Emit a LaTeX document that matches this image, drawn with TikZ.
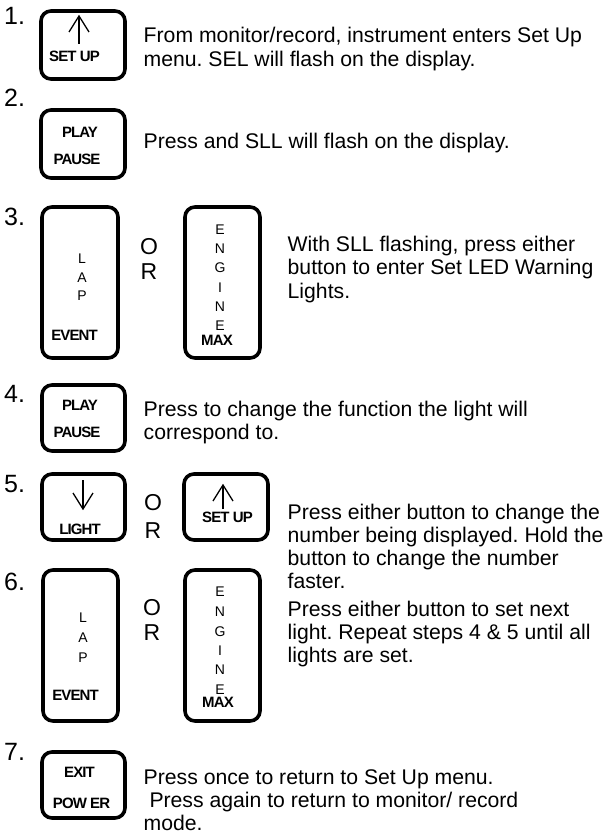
\documentclass[tikz,border=0pt]{standalone}
\usepackage{fontspec}
\setmainfont{Liberation Sans}
\newfontfamily\btnfont[LetterSpace=-6]{Liberation Sans}
\frenchspacing
\begin{document}
\begin{tikzpicture}[x=1pt,y=-1pt,
  btn/.style={draw, line width=3.6pt, rounded corners=10pt, inner sep=0pt},
  body/.style={anchor=base west, inner sep=0pt, font=\fontsize{21.2}{23.5}\selectfont},
  num/.style={anchor=base west, inner sep=0pt, font=\fontsize{25}{25}\selectfont},
  lbl/.style={inner sep=0pt, font=\btnfont\bfseries\fontsize{15}{15}\selectfont},
  ltr/.style={inner sep=0pt, font=\fontsize{14}{14}\selectfont},
  orl/.style={inner sep=0pt, font=\fontsize{23}{23}\selectfont},
  arr/.style={line width=1.3pt, line join=miter}
]
\useasboundingbox (0,0) rectangle (607,840);

% ---------- step numbers
\node[num] (n1) at (4,25) {1.};
\node[num] (n2) at (4,107) {2.};
\node[num] (n3) at (4,225) {3.};
\node[num] (n4) at (4,402) {4.};
\node[num] (n5) at (4,492) {5.};
\node[num] (n6) at (4,590) {6.};
\node[num] (n7) at (4,760) {7.};

% ---------- step 1
\node[btn, minimum width=84pt, minimum height=68pt] (b1) at (83,45) {};
\coordinate (b1top) at (79,16);
\coordinate (b1bot) at (79,44);
\draw[arr] (b1bot) -- (b1top);
\draw[arr] ([xshift=-10pt,yshift=-16pt]b1top) -- (b1top) -- ([xshift=10pt,yshift=-16pt]b1top);
\node[lbl] (b1l) at (74.5,56) {SET UP};
\node[body] (t1a) at (143.5,43) {From monitor/record, instrument enters Set Up};
\node[body] (t1b) at (143.5,67) {menu. SEL will flash on the display.};

% ---------- step 2
\node[btn, minimum width=84pt, minimum height=68pt] (b2) at (83,144) {};
\node[lbl] (b2a) at (80,132) {PLAY};
\node[lbl] (b2b) at (77,159) {PAUSE};
\node[body] (t2a) at (143.5,148) {Press and SLL will flash on the display.};

% ---------- step 3
\node[btn, minimum width=76pt, minimum height=151pt] (b3a) at (80,282.5) {};
\node[ltr] (b3l1) at (82,259) {L};
\node[ltr] (b3l2) at (82,278) {A};
\node[ltr] (b3l3) at (82,296) {P};
\node[lbl] (b3ev) at (74.5,335) {EVENT};
\node[orl] (o3) at (149,247) {O};
\node[orl] (r3) at (149,272) {R};
\node[btn, minimum width=75pt, minimum height=151pt] (b3b) at (222.5,282.5) {};
\node[ltr] (b3e1) at (220,230) {E};
\node[ltr] (b3e2) at (220,249) {N};
\node[ltr] (b3e3) at (220,268) {G};
\node[ltr] (b3e4) at (220,288) {I};
\node[ltr] (b3e5) at (220,307) {N};
\node[ltr] (b3e6) at (220,326) {E};
\node[lbl] (b3mx) at (217,340) {MAX};
\node[body] (t3a) at (287.5,251) {With SLL flashing, press either};
\node[body] (t3b) at (287.5,274.5) {button to enter Set LED Warning};
\node[body] (t3c) at (287.5,298) {Lights.};

% ---------- step 4
\node[btn, minimum width=83pt, minimum height=66pt] (b4) at (83.5,418) {};
\node[lbl] (b4a) at (80,405) {PLAY};
\node[lbl] (b4b) at (77,432) {PAUSE};
\node[body] (t4a) at (143.5,416) {Press to change the function the light will};
\node[body] (t4b) at (143.5,439.5) {correspond to.};

% ---------- step 5
\node[btn, minimum width=83pt, minimum height=66pt] (b5a) at (83.5,507) {};
\coordinate (b5atop) at (83,480);
\coordinate (b5atip) at (83,509);
\draw[arr] (b5atop) -- (b5atip);
\draw[arr] ([xshift=-10pt,yshift=16pt]b5atip) -- (b5atip) -- ([xshift=10pt,yshift=16pt]b5atip);
\node[lbl] (b5al) at (80,529) {LIGHT};
\node[orl] (o5) at (153,503) {O};
\node[orl] (r5) at (153,531) {R};
\node[btn, minimum width=84pt, minimum height=66pt] (b5b) at (226,507) {};
\coordinate (b5btip) at (223,485);
\coordinate (b5bbot) at (223,509);
\draw[arr] (b5bbot) -- (b5btip);
\draw[arr] ([xshift=-10pt,yshift=-16pt]b5btip) -- (b5btip) -- ([xshift=10pt,yshift=-16pt]b5btip);
\node[lbl] (b5bl) at (227.5,517) {SET UP};
\node[body] (t5a) at (287.5,519) {Press either button to change the};
\node[body] (t5b) at (287.5,542) {number being displayed. Hold the};
\node[body] (t5c) at (287.5,565) {button to change the number};
\node[body] (t5d) at (287.5,588) {faster.};

% ---------- step 6
\node[btn, minimum width=75pt, minimum height=151pt] (b6a) at (80.5,645.5) {};
\node[ltr] (b6l1) at (83,618) {L};
\node[ltr] (b6l2) at (83,638) {A};
\node[ltr] (b6l3) at (83,658) {P};
\node[lbl] (b6ev) at (75.5,695) {EVENT};
\node[orl] (o6) at (152,608) {O};
\node[orl] (r6) at (152,633) {R};
\node[btn, minimum width=75pt, minimum height=151pt] (b6b) at (222.5,645.5) {};
\node[ltr] (b6e1) at (220,592) {E};
\node[ltr] (b6e2) at (220,612) {N};
\node[ltr] (b6e3) at (220,632) {G};
\node[ltr] (b6e4) at (220,651) {I};
\node[ltr] (b6e5) at (220,670) {N};
\node[ltr] (b6e6) at (220,690) {E};
\node[lbl] (b6mx) at (218,702) {MAX};
\node[body] (t6a) at (287.5,616) {Press either button to set next};
\node[body] (t6b) at (287.5,639) {light. Repeat steps 4 \& 5 until all};
\node[body] (t6c) at (287.5,662) {lights are set.};

% ---------- step 7
\node[btn, minimum width=83pt, minimum height=66pt] (b7) at (83.5,785) {};
\node[lbl] (b7a) at (79.5,772) {EXIT};
\node[lbl] (b7b) at (81.5,803) {POW ER};
\node[body] (t7a) at (143.5,784) {Press once to return to Set Up menu.};
\node[body] (t7b) at (149.3,807) {Press again to return to monitor/ record};
\node[body] (t7c) at (143.5,830) {mode.};
\end{tikzpicture}
\end{document}
